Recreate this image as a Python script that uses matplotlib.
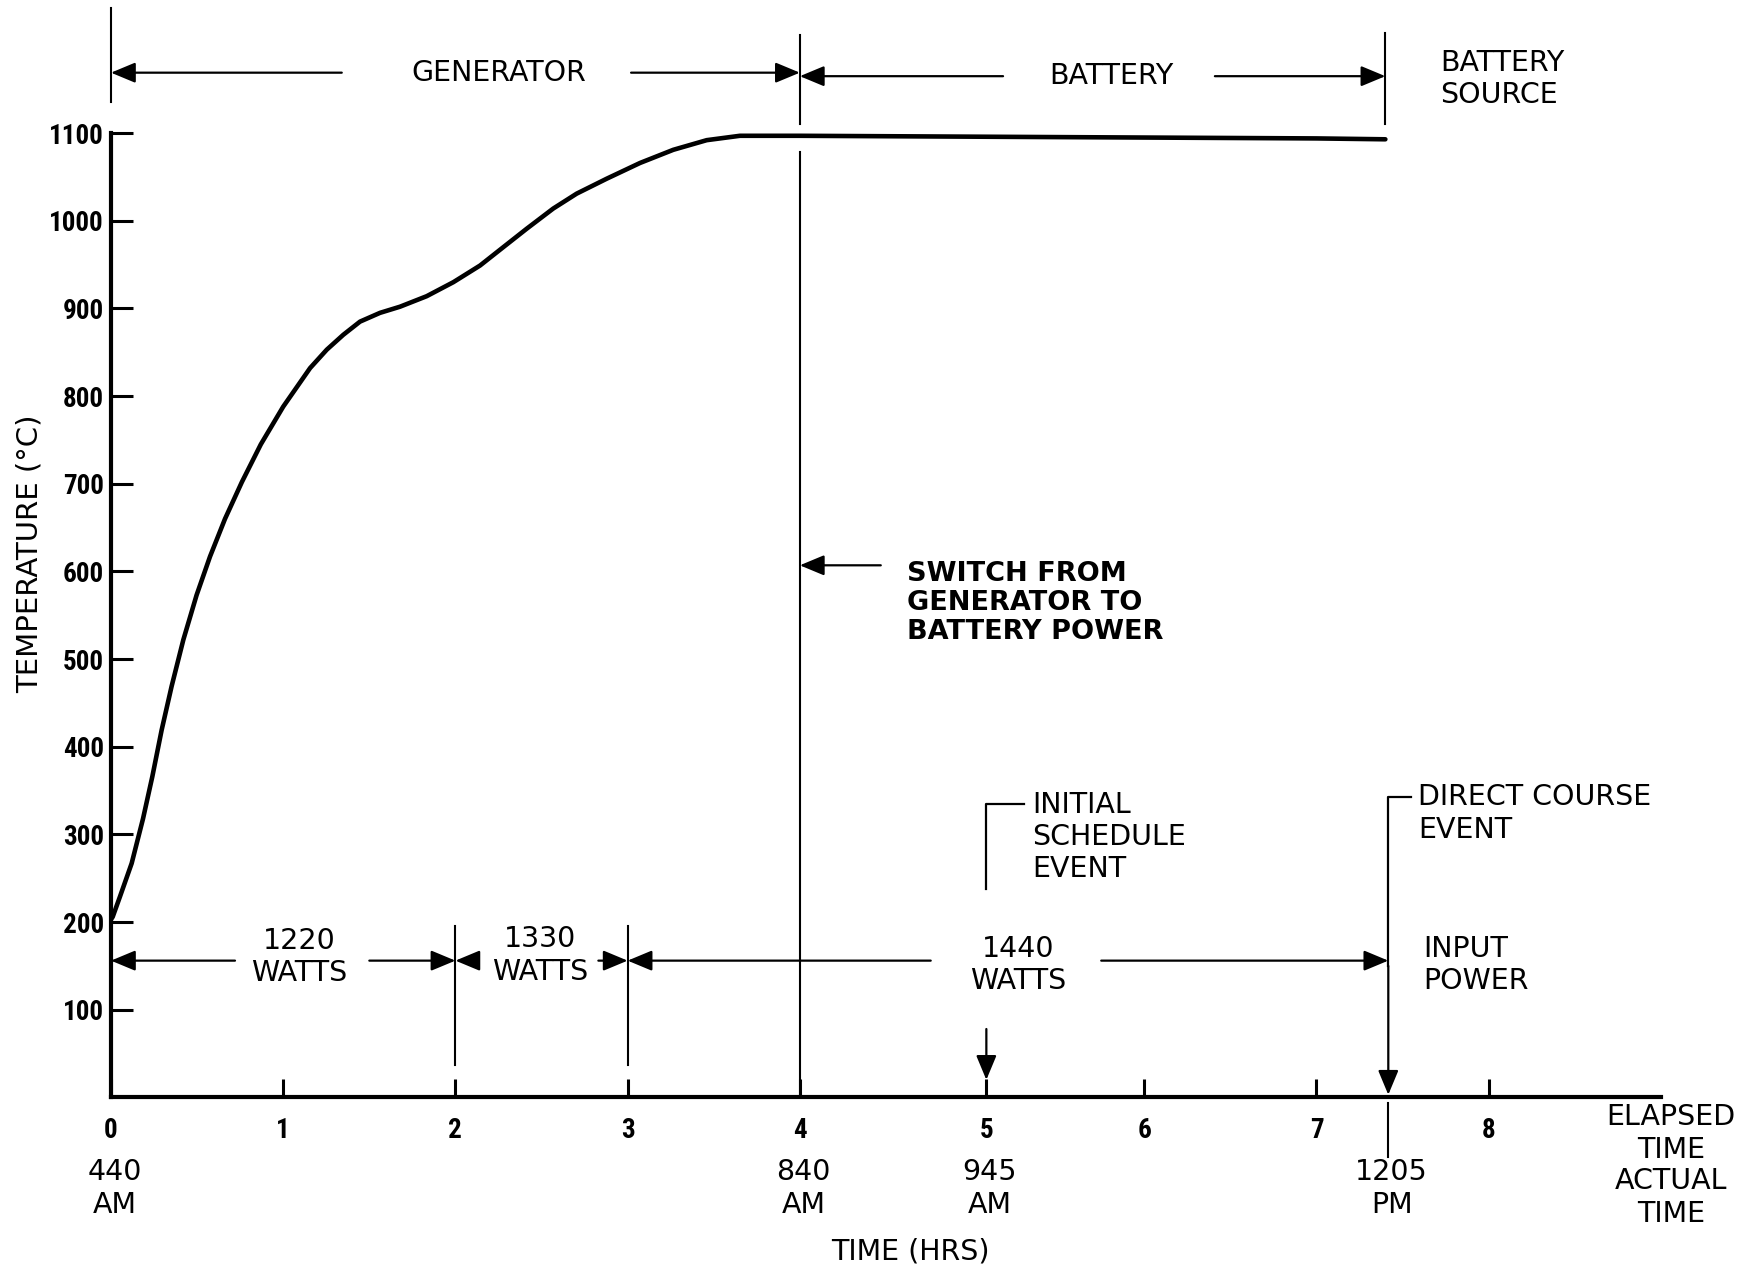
import numpy as np
import matplotlib.pyplot as plt

# temperature trace
elapsed_hr = [0, 0.01, 0.052, 0.12, 0.186, 0.24, 0.294, 0.352, 0.420, 0.497,
              0.575, 0.662, 0.76, 0.87, 1.0, 1.156, 1.253, 1.349, 1.446,
              1.562, 1.678, 1.833, 1.988, 2.143, 2.259, 2.414, 2.568, 2.704,
              2.878, 3.072, 3.265, 3.459, 3.652, 4.0, 5.0, 6.0, 7.0, 7.40]
temp_c = [203, 206, 229, 267, 318, 366, 419, 469, 522, 573,
          617, 660, 702, 745, 788, 832, 853, 870, 885,
          895, 902, 914, 930, 949, 967, 991, 1014, 1031,
          1048, 1066, 1081, 1092, 1097, 1097, 1096, 1095, 1094, 1093]

temp_ticks = [100, 200, 300, 400, 500, 600, 700, 800, 900, 1000, 1100]
elapsed_ticks = [0, 1, 2, 3, 4, 5.083, 6, 7, 8]
elapsed_labels = ["0", "1", "2", "3", "4", "5", "6", "7", "8"]

# actual clock times (elapsed hr from 440 AM)
clock_hr = [0, 4.0, 5.083, 7.417]
clock_labels = ["440\nAM", "840\nAM", "945\nAM", "1205\nPM"]

# input power phases
power_edges = [0, 2, 3, 7.417]
power_labels = ["1220\nWATTS", "1330\nWATTS", "1440\nWATTS"]
switch_hr = 4.0
initial_event_hr = 5.083
direct_event_hr = 7.417

plt.rcParams['font.family'] = ['DejaVu Sans']
tickfont = ['Roboto Condensed', 'Liberation Sans', 'DejaVu Sans']

fig = plt.figure(figsize=(17.58, 12.70), dpi=100)
ax = fig.add_axes([0.06314, 0.13592, 0.88163, 0.75923])
ax.set_xlim(0, 9)
ax.set_ylim(0, 1100)
for s in ["top", "right"]:
    ax.spines[s].set_visible(False)
for s in ["left", "bottom"]:
    ax.spines[s].set_linewidth(3.0)

ax.plot(elapsed_hr, temp_c, color="black", lw=3.3, solid_joinstyle="round",
        solid_capstyle="round")

ax.set_yticks(temp_ticks)
ax.set_yticklabels([str(t) for t in temp_ticks], fontfamily=tickfont,
                   fontweight="bold", fontsize=19.5)
ax.tick_params(axis="y", direction="in", length=16, width=2.2, pad=5)
ax.set_xticks(elapsed_ticks)
ax.set_xticklabels(elapsed_labels, fontfamily=tickfont, fontweight="bold",
                   fontsize=19.5)
ax.tick_params(axis="x", direction="in", length=13, width=2.2, pad=14)

ax.text(-0.47, 620, "TEMPERATURE (°C)", rotation=90, ha="center",
        va="center", fontsize=21)
ax.text(4.64, -176, "TIME (HRS)", ha="center", va="center", fontsize=20.5)

txt = dict(fontsize=20.5, linespacing=1.2)
arrow = dict(arrowstyle="-|>,head_length=0.6,head_width=0.25",
             mutation_scale=25, lw=1.6, color="black", shrinkA=0, shrinkB=0)


def arr(x0, y0, x1, y1):
    ax.annotate("", xy=(x1, y1), xytext=(x0, y0), arrowprops=arrow,
                annotation_clip=False)


def vline(x, y0, y1, lw=1.5):
    ax.plot([x, x], [y0, y1], color="black", lw=lw, clip_on=False)


# generator / battery source band on top
vline(0, 1136, 1243)
vline(switch_hr, 1111, 1212)
vline(direct_event_hr - 0.017, 1111, 1214)
arr(1.34, 1169, 0, 1169)
arr(3.02, 1169, switch_hr, 1169)
ax.text(2.25, 1169, "GENERATOR", ha="center", va="center", **txt)
arr(5.18, 1165, switch_hr, 1165)
arr(6.41, 1165, direct_event_hr - 0.017, 1165)
ax.text(5.81, 1165, "BATTERY", ha="center", va="center", **txt)
ax.text(7.72, 1162, "BATTERY\nSOURCE", ha="left", va="center", **txt)

# switch line
vline(switch_hr, 0, 1079)
arr(4.47, 607, switch_hr, 607)
ax.text(4.62, 564, "SWITCH FROM\nGENERATOR TO\nBATTERY POWER", ha="left",
        va="center", fontsize=19.5, fontweight="bold", linespacing=1.15)

# input power bands
for x in power_edges[1:3]:
    vline(x, 37, 196)
arr(0.72, 156, power_edges[0], 156)
arr(1.50, 156, power_edges[1], 156)
ax.text(1.094, 160, power_labels[0], ha="center", va="center", **txt)
arr(2.12, 156, power_edges[1], 156)
arr(2.83, 156, power_edges[2], 156)
ax.text(2.49, 162, power_labels[1], ha="center", va="center", **txt)
arr(4.76, 156, power_edges[2], 156)
arr(5.75, 156, power_edges[3], 156)
ax.text(5.27, 151, power_labels[2], ha="center", va="center", **txt)
ax.text(7.62, 151, "INPUT\nPOWER", ha="left", va="center", **txt)

# events
ax.plot([initial_event_hr + 0.22, initial_event_hr, initial_event_hr],
        [335, 335, 238], color="black", lw=1.6)
arr(initial_event_hr, 78, initial_event_hr, 20)
ax.text(5.35, 297, "INITIAL\nSCHEDULE\nEVENT", ha="left", va="center", **txt)

ax.plot([direct_event_hr + 0.13, direct_event_hr, direct_event_hr],
        [343, 343, 150], color="black", lw=1.6)
arr(direct_event_hr, 150, direct_event_hr, 3)
vline(direct_event_hr, -68, -6)
ax.text(7.59, 324, "DIRECT COURSE\nEVENT", ha="left", va="center", **txt)

# actual time row
for x, lab in zip(clock_hr, clock_labels):
    ax.text(x + 0.02, -104, lab, ha="center", va="center", **txt)
ax.text(9.06, -41, "ELAPSED\nTIME", ha="center", va="center", **txt)
ax.text(9.06, -114, "ACTUAL\nTIME", ha="center", va="center", **txt)

fig.savefig("out.png", dpi=100, facecolor="white")
